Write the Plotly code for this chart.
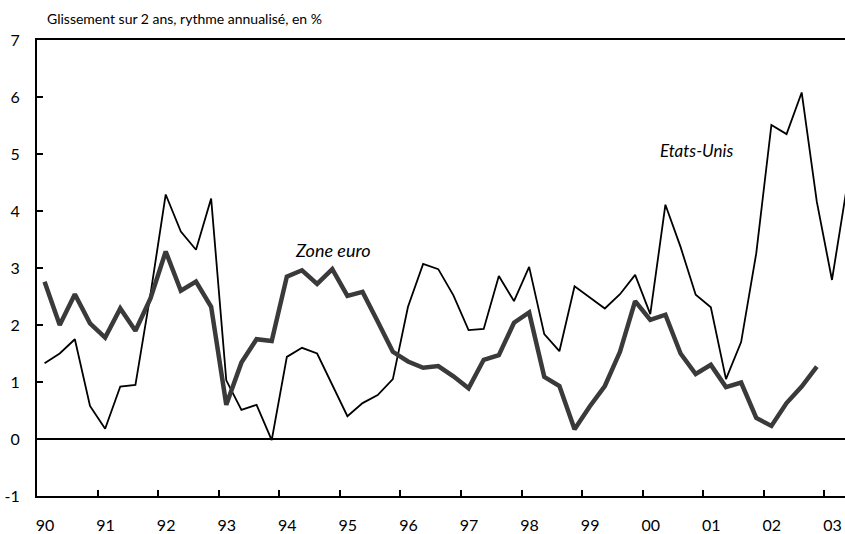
import plotly.graph_objects as go

# Quarterly data, 1990Q1 onwards
years = list(range(1990, 2004))
year_labels = ["90", "91", "92", "93", "94", "95", "96", "97", "98", "99", "00", "01", "02", "03"]

etats_unis = [
    1.33, 1.50, 1.75, 0.58,   # 1990
    0.18, 0.92, 0.95, 2.55,   # 1991
    4.29, 3.64, 3.32, 4.22,   # 1992
    1.03, 0.51, 0.60, -0.02,  # 1993
    1.44, 1.60, 1.50, 0.95,   # 1994
    0.40, 0.63, 0.77, 1.05,   # 1995
    2.32, 3.07, 2.98, 2.52,   # 1996
    1.91, 1.93, 2.86, 2.42,   # 1997
    3.02, 1.84, 1.54, 2.68,   # 1998
    2.48, 2.29, 2.54, 2.88,   # 1999
    2.19, 4.11, 3.37, 2.53,   # 2000
    2.31, 1.05, 1.70, 3.26,   # 2001
    5.51, 5.35, 6.08, 4.16,   # 2002
    2.79, 4.45,               # 2003
]

zone_euro = [
    2.76, 2.00, 2.54, 2.03,   # 1990
    1.78, 2.29, 1.90, 2.47,   # 1991
    3.29, 2.60, 2.76, 2.32,   # 1992
    0.60, 1.34, 1.75, 1.72,   # 1993
    2.85, 2.96, 2.72, 2.98,   # 1994
    2.51, 2.58, 2.06, 1.53,   # 1995
    1.36, 1.25, 1.28, 1.10,   # 1996
    0.89, 1.39, 1.47, 2.04,   # 1997
    2.22, 1.09, 0.93, 0.17,   # 1998
    0.57, 0.93, 1.53, 2.42,   # 1999
    2.09, 2.18, 1.50, 1.14,   # 2000
    1.30, 0.91, 0.99, 0.37,   # 2001
    0.23, 0.63, 0.92, 1.27,   # 2002
]

y_ticks = [-1, 0, 1, 2, 3, 4, 5, 6, 7]
y_tick_text = ["-1", "0", "1", "2", "3", "4", "5", "6", "7"]


def quarter_positions(n):
    return [1990 + (i + 0.5) / 4 for i in range(n)]


FONT = "Lato"

fig = go.Figure()
fig.add_trace(go.Scatter(
    x=quarter_positions(len(etats_unis)), y=etats_unis, mode="lines",
    line=dict(color="#000000", width=1.8), name="Etats-Unis", showlegend=False,
))
fig.add_trace(go.Scatter(
    x=quarter_positions(len(zone_euro)), y=zone_euro, mode="lines",
    line=dict(color="#3a3a3a", width=4.5), name="Zone euro", showlegend=False,
))

fig.update_layout(
    width=845, height=534,
    margin=dict(l=37, r=0, t=40, b=38),
    paper_bgcolor="white", plot_bgcolor="white",
    font=dict(family=FONT, color="#000000", size=16),
    title=dict(
        text="Glissement sur 2 ans, rythme annualisé, en %",
        font=dict(family=FONT, size=14, color="#000000"),
        xref="container", x=47 / 845, xanchor="left",
        yref="container", y=1 - 19 / 534, yanchor="middle",
    ),
    annotations=[
        dict(text="<i>Zone euro</i>", x=1994.227, y=3.32, xref="x", yref="y",
             xanchor="left", yanchor="middle", showarrow=False,
             font=dict(family=FONT, size=18, color="#000000")),
        dict(text="<i>Etats-Unis</i>", x=2000.25, y=5.07, xref="x", yref="y",
             xanchor="left", yanchor="middle", showarrow=False,
             font=dict(family=FONT, size=17, color="#000000")),
    ],
)

fig.update_xaxes(
    range=[1990, 2003.34],
    tickmode="array", tickvals=years, ticktext=year_labels,
    ticks="inside", ticklen=6, tickwidth=1.5, tickcolor="#000000",
    ticklabelshift=8, ticklabelstandoff=14,
    tickfont=dict(family=FONT, size=16, color="#000000"),
    showline=True, linecolor="#000000", linewidth=2, mirror=True,
    showgrid=False, zeroline=False,
)
fig.update_yaxes(
    range=[-1, 7],
    tickmode="array", tickvals=y_ticks, ticktext=y_tick_text,
    ticks="inside", ticklen=6, tickwidth=1.5, tickcolor="#000000",
    ticklabelstandoff=12,
    tickfont=dict(family=FONT, size=16, color="#000000"),
    showline=True, linecolor="#000000", linewidth=2,
    showgrid=False,
    zeroline=True, zerolinecolor="#000000", zerolinewidth=1.6,
)

fig.write_html(
    "out.html",
    config={"displayModeBar": False},
    post_script="document.body.style.margin='0';document.body.style.padding='0';",
)
